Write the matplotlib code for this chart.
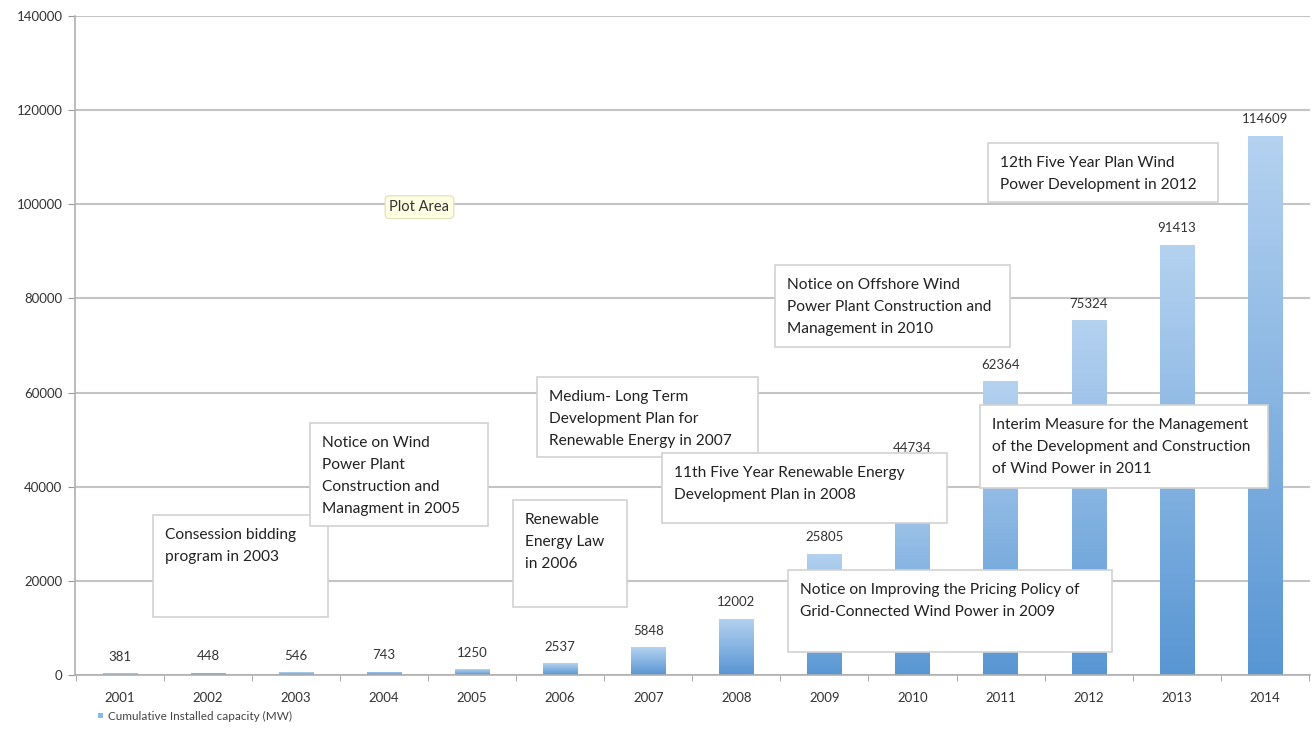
import numpy as np
import matplotlib
matplotlib.use("Agg")
import matplotlib.pyplot as plt
from matplotlib.colors import LinearSegmentedColormap
from matplotlib.patches import Rectangle

plt.rcParams["font.family"] = ["Lato", "DejaVu Sans"]

years = ["2001", "2002", "2003", "2004", "2005", "2006", "2007",
         "2008", "2009", "2010", "2011", "2012", "2013", "2014"]
capacity = [381, 448, 546, 743, 1250, 2537, 5848,
            12002, 25805, 44734, 62364, 75324, 91413, 114609]

# policy notes: (text, x0, x1, y_bottom, y_top) in axes fraction
notes = [
    ("Consession bidding\nprogram in 2003", 0.0632, 0.2049, 0.0880, 0.2428),
    ("Notice on Wind\nPower Plant\nConstruction and\nManagment in 2005", 0.1903, 0.3344, 0.2261, 0.3824),
    ("Renewable\nEnergy Law\nin 2006", 0.3547, 0.4470, 0.1032, 0.2656),
    ("Medium- Long Term\nDevelopment Plan for\nRenewable Energy in 2007", 0.3741, 0.5530, 0.3308, 0.4522),
    ("11th Five Year Renewable Energy\nDevelopment Plan in 2008", 0.4753, 0.7061, 0.2307, 0.3369),
    ("Notice on Offshore Wind\nPower Plant Construction and\nManagement in 2010", 0.5668, 0.7571, 0.4977, 0.6222),
    ("12th Five Year Plan Wind\nPower Development in 2012", 0.7393, 0.9255, 0.7178, 0.8073),
    ("Interim Measure for the Management\nof the Development and Construction\nof Wind Power in 2011", 0.7328, 0.9660, 0.2838, 0.4097),
    ("Notice on Improving the Pricing Policy of\nGrid-Connected Wind Power in 2009", 0.5773, 0.8397, 0.0349, 0.1593),
]

fig = plt.figure(figsize=(13.15, 7.33), dpi=100)
ax = fig.add_axes([0.057, 0.0791, 0.939, 0.899])

x = np.arange(len(years))
bars = ax.bar(x, capacity, width=0.39, color="none", zorder=2)

# vertical gradient fill per bar, light at the top
grad = LinearSegmentedColormap.from_list("bar", ["#5896d3", "#b5d2f0"])
g = np.linspace(0, 1, 256).reshape(-1, 1)
for b in bars:
    x0, w, h = b.get_x(), b.get_width(), b.get_height()
    im = ax.imshow(g, cmap=grad, origin="lower", aspect="auto",
                   extent=[x0, x0 + w, 0, h], zorder=2)
    im.set_clip_path(b)

for xi, v in zip(x, capacity):
    ax.annotate(str(v), (xi, v), xytext=(0, 7.5), textcoords="offset points",
                ha="center", va="bottom", fontsize=9.5, color="#333333", zorder=3)

ax.set_xlim(-0.51, len(years) - 0.49)
ax.set_ylim(0, 140000)
ax.set_yticks(np.arange(0, 140001, 20000))
ax.set_xticks(x)
ax.set_xticklabels(years)
ax.set_xticks(np.arange(-0.5, len(years), 1), minor=True)
ax.tick_params(axis="x", which="major", length=0, pad=12, labelsize=9.5, labelcolor="#333333")
ax.tick_params(axis="x", which="minor", length=4, color="#999999", direction="out")
ax.tick_params(axis="y", length=5, color="#999999", pad=4, labelsize=9.5, labelcolor="#333333")
ax.grid(axis="y", color="#c4c4c4", linewidth=1.5, zorder=0)
ax.set_axisbelow(True)
for s in ["top", "right"]:
    ax.spines[s].set_visible(False)
ax.spines["left"].set_color("#b0b0b0")
ax.spines["bottom"].set_color("#b0b0b0")
ax.spines["left"].set_linewidth(1.2)
ax.spines["bottom"].set_linewidth(1.2)

for i, (text, x0, x1, y0, y1) in enumerate(notes):
    z = 4 + 2 * i
    ax.add_patch(Rectangle((x0, y0), x1 - x0, y1 - y0, transform=ax.transAxes,
                           facecolor="white", edgecolor="#d2d2d2", linewidth=1.2, zorder=z))
    ax.text(x0 + 0.0097, y1 - 0.0197, text, transform=ax.transAxes, ha="left", va="top",
            fontsize=11.2, color="#222222", linespacing=1.72, zorder=z + 1)

ax.text(0.279, 0.710, "Plot Area", transform=ax.transAxes, ha="center", va="center",
        fontsize=10.5, color="#333333", zorder=30,
        bbox=dict(boxstyle="round,pad=0.3", facecolor="#fefee2", edgecolor="#e0e0b8", linewidth=0.8))

# legend entry below the axis
fig.patches.append(Rectangle((98 / 1315, 1 - 718 / 733), 5 / 1315, 5 / 733,
                             transform=fig.transFigure, facecolor="#8db8e6", edgecolor="none"))
fig.text(108 / 1315, 1 - 716 / 733, "Cumulative Installed capacity (MW)", ha="left", va="center",
         fontsize=8.5, color="#444444")

fig.savefig("out.png", dpi=100)
